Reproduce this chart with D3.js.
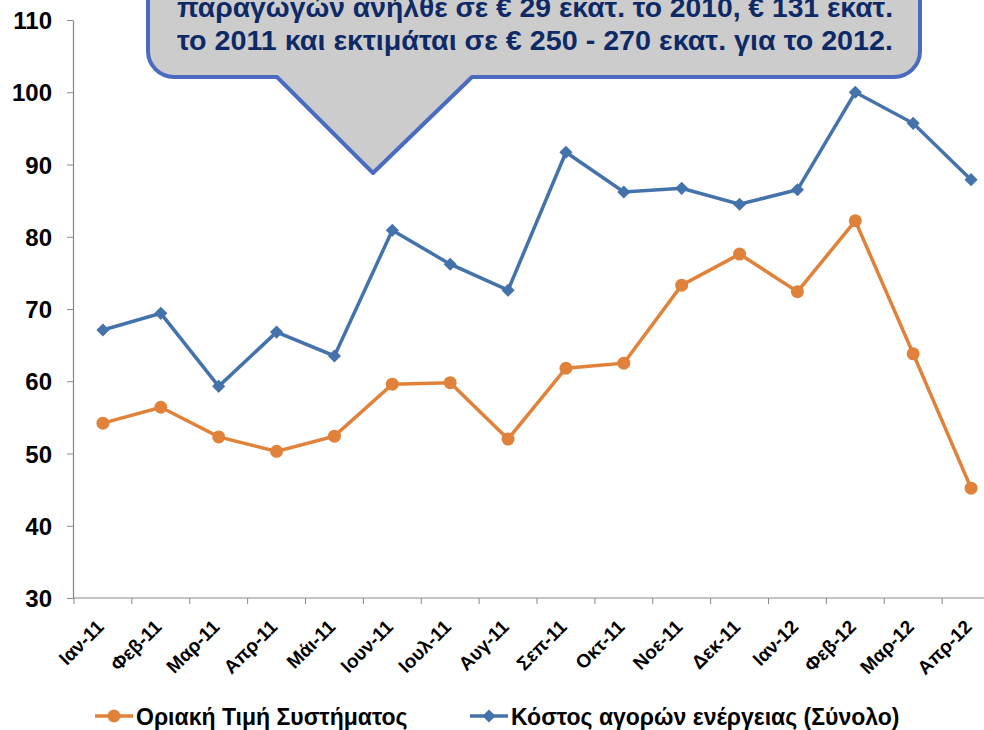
<!DOCTYPE html>
<html>
<head>
<meta charset="utf-8">
<script src="https://cdn.jsdelivr.net/npm/d3@7"></script>
<style>
  body { margin: 0; background: #fff; }
  svg { display: block; font-family: "Liberation Sans", Arial, sans-serif; }
</style>
</head>
<body>
<div id="chart"></div>
<script>
// data
let months = ["Ιαν-11", "Φεβ-11", "Μαρ-11", "Απρ-11", "Μάι-11", "Ιουν-11", "Ιουλ-11", "Αυγ-11",
              "Σεπ-11", "Οκτ-11", "Νοε-11", "Δεκ-11", "Ιαν-12", "Φεβ-12", "Μαρ-12", "Απρ-12"];
let smp = [54.2, 56.4, 52.3, 50.3, 52.4, 59.6, 59.8, 52.0, 61.8, 62.5, 73.3, 77.6, 72.4, 82.2, 63.8, 45.2];
let cost = [67.1, 69.4, 59.3, 66.8, 63.5, 80.9, 76.2, 72.6, 91.7, 86.2, 86.7, 84.5, 86.5, 100.0, 95.7, 87.9];
let yTicks = [30, 40, 50, 60, 70, 80, 90, 100, 110];
let seriesNames = ["Οριακή Τιμή Συστήματος", "Κόστος αγορών ενέργειας (Σύνολο)"];
let calloutLines = ["παραγωγών ανήλθε σε € 29 εκατ. το 2010, € 131 εκατ.",
                    "το 2011 και εκτιμάται σε € 250 - 270 εκατ. για το 2012."];

let W = 984, H = 730;
let orange = "#E0823A", blue = "#4472AB";

let svg = d3.select("#chart").append("svg")
    .attr("width", W)
    .attr("height", H);

// scales - plot runs a bit past the right edge like the original
let x = d3.scaleBand().domain(months).range([74, 1000]);
let y = d3.scaleLinear().domain([30, 110]).range([598, 20]);

// y axis
let yAxis = svg.append("g")
    .attr("transform", "translate(73,0)")
    .call(d3.axisLeft(y).tickValues(yTicks).tickSize(6).tickSizeOuter(0));
yAxis.select(".domain").attr("stroke", "#888").attr("stroke-width", 1.2);
yAxis.selectAll(".tick line").attr("stroke", "#888");
yAxis.selectAll(".tick text")
    .attr("x", -21)
    .attr("dy", "0.36em")
    .style("font-size", "24px")
    .style("font-weight", "bold")
    .style("font-family", "Liberation Sans, Arial, sans-serif")
    .attr("fill", "#000");

// x axis, ticks at category boundaries
svg.append("line")
    .attr("x1", 73).attr("x2", 1000)
    .attr("y1", 598).attr("y2", 598)
    .attr("stroke", "#888").attr("stroke-width", 1.2);
svg.append("g").selectAll("line")
    .data(months.concat(["end"]))
    .enter().append("line")
    .attr("x1", (d, i) => 74 + i * x.step())
    .attr("x2", (d, i) => 74 + i * x.step())
    .attr("y1", 598).attr("y2", 604)
    .attr("stroke", "#888");

svg.append("g").selectAll("text")
    .data(months)
    .enter().append("text")
    .attr("transform", d => "translate(" + (x(d) + x.bandwidth() / 2 + 2) + ",628) rotate(-45)")
    .attr("text-anchor", "end")
    .style("font-size", "19px")
    .style("font-weight", "bold")
    .text(d => d);

// lines
let line = d3.line()
    .x((d, i) => x(months[i]) + x.bandwidth() / 2)
    .y(d => y(d));

svg.append("path")
    .datum(smp)
    .attr("d", line)
    .attr("fill", "none")
    .attr("stroke", orange)
    .attr("stroke-width", 3.5);

svg.append("path")
    .datum(cost)
    .attr("d", line)
    .attr("fill", "none")
    .attr("stroke", blue)
    .attr("stroke-width", 3.5);

svg.append("g").selectAll("circle")
    .data(smp)
    .enter().append("circle")
    .attr("cx", (d, i) => x(months[i]) + x.bandwidth() / 2)
    .attr("cy", d => y(d))
    .attr("r", 6.5)
    .attr("fill", orange);

let diamond = d3.symbol().type(d3.symbolDiamond2).size(110);
svg.append("g").selectAll("path")
    .data(cost)
    .enter().append("path")
    .attr("d", diamond)
    .attr("transform", (d, i) => "translate(" + (x(months[i]) + x.bandwidth() / 2) + "," + y(d) + ")")
    .attr("fill", blue);

// legend
let legendItems = [
    {name: seriesNames[0], color: orange, x0: 95, marker: "circle"},
    {name: seriesNames[1], color: blue, x0: 470, marker: "diamond"}
];
legendItems.forEach(function(it) {
    svg.append("line")
        .attr("x1", it.x0).attr("x2", it.x0 + 38)
        .attr("y1", 716).attr("y2", 716)
        .attr("stroke", it.color).attr("stroke-width", 3.5);
    if (it.marker == "circle") {
        svg.append("circle").attr("cx", it.x0 + 19).attr("cy", 716).attr("r", 6.5).attr("fill", it.color);
    } else {
        svg.append("path").attr("d", diamond)
            .attr("transform", "translate(" + (it.x0 + 19) + ",716)")
            .attr("fill", it.color);
    }
    svg.append("text")
        .attr("x", it.x0 + 41)
        .attr("y", 725)
        .style("font-size", "23px")
        .style("font-weight", "bold")
        .text(it.name);
});

// callout box (top is cut off by the image edge)
let bx0 = 148, bx1 = 920, by0 = -80, by1 = 77, r = 26;
let tip = [373, 173], pL = 277, pR = 472;
let p = d3.path();
p.moveTo(bx0 + r, by0);
p.lineTo(bx1 - r, by0);
p.arcTo(bx1, by0, bx1, by0 + r, r);
p.lineTo(bx1, by1 - r);
p.arcTo(bx1, by1, bx1 - r, by1, r);
p.lineTo(pR, by1);
p.lineTo(tip[0], tip[1]);
p.lineTo(pL, by1);
p.lineTo(bx0 + r, by1);
p.arcTo(bx0, by1, bx0, by1 - r, r);
p.lineTo(bx0, by0 + r);
p.arcTo(bx0, by0, bx0 + r, by0, r);
p.closePath();

svg.append("path")
    .attr("d", p.toString())
    .attr("fill", "#CCCCCC")
    .attr("stroke", "#4A6BC0")
    .attr("stroke-width", 4)
    .attr("stroke-linejoin", "round");

svg.append("g").selectAll("text")
    .data(calloutLines)
    .enter().append("text")
    .attr("x", 535)
    .attr("y", (d, i) => 17 + i * 33)
    .attr("text-anchor", "middle")
    .attr("fill", "#0E2A66")
    .style("font-size", "27px")
    .style("font-weight", "bold")
    .attr("textLength", 716)
    .attr("lengthAdjust", "spacingAndGlyphs")
    .text(d => d);
</script>
</body>
</html>
